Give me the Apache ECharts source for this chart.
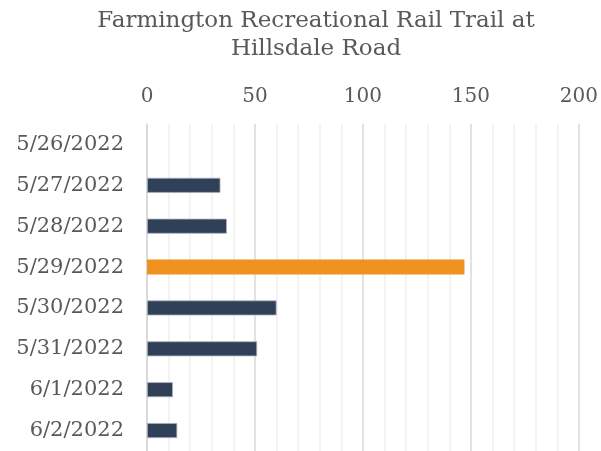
<!DOCTYPE html>
<html>
<head>
<meta charset="utf-8">
<script src="https://cdn.jsdelivr.net/npm/echarts@6/dist/echarts.min.js"></script>
<style>
  html, body { margin: 0; padding: 0; background: #fff; }
  #chart { width: 601px; height: 451px; }
</style>
</head>
<body>
<div id="chart"></div>
<script>
// Daily counts on the Farmington trail counter
const categories = ['5/26/2022', '5/27/2022', '5/28/2022', '5/29/2022', '5/30/2022', '5/31/2022', '6/1/2022', '6/2/2022'];
const counts = [0, 34, 37, 147, 60, 51, 12, 14];
const highlightDay = '5/29/2022';
const xTicks = [0, 50, 100, 150, 200];

const FONT = '"DejaVu Serif", serif';
const TEXT = '#595959';
const DARK = '#2F4058';
const ORANGE = '#F0921F';

const chart = echarts.init(document.getElementById('chart'), null, { renderer: 'canvas' });

chart.setOption({
  animation: false,
  backgroundColor: '#ffffff',
  title: {
    text: 'Farmington Recreational Rail Trail at\nHillsdale Road',
    left: 311,
    textAlign: 'center',
    top: 2,
    textStyle: { fontFamily: FONT, fontWeight: 'normal', fontSize: 23, color: TEXT, lineHeight: 28 }
  },
  grid: { left: 147, right: 21, top: 124, bottom: -3, containLabel: false },
  xAxis: {
    type: 'value',
    position: 'top',
    min: xTicks[0],
    max: xTicks[xTicks.length - 1],
    interval: xTicks[1] - xTicks[0],
    axisLine: { show: false },
    axisTick: { show: false },
    axisLabel: { fontFamily: FONT, fontSize: 20, color: TEXT, margin: 17 },
    splitLine: { show: true, lineStyle: { color: '#d9d9d9', width: 1.5 } },
    minorTick: { show: false, splitNumber: 5 },
    minorSplitLine: { show: true, lineStyle: { color: '#f0f0f0', width: 1.5 } }
  },
  yAxis: {
    type: 'category',
    inverse: true,
    data: categories,
    axisLine: { show: true, lineStyle: { color: '#d9d9d9', width: 1.5 } },
    axisTick: { show: false },
    axisLabel: { fontFamily: FONT, fontSize: 21, color: TEXT, margin: 23 }
  },
  series: [{
    type: 'bar',
    barWidth: 15,
    data: categories.map((c, i) => ({
      value: counts[i],
      itemStyle: c === highlightDay
        ? { color: ORANGE }
        : (counts[i] > 0
          ? { color: DARK, borderColor: '#a9b1bd', borderWidth: 0.8 }
          : { color: DARK, borderWidth: 0 })
    }))
  }]
});
</script>
</body>
</html>
